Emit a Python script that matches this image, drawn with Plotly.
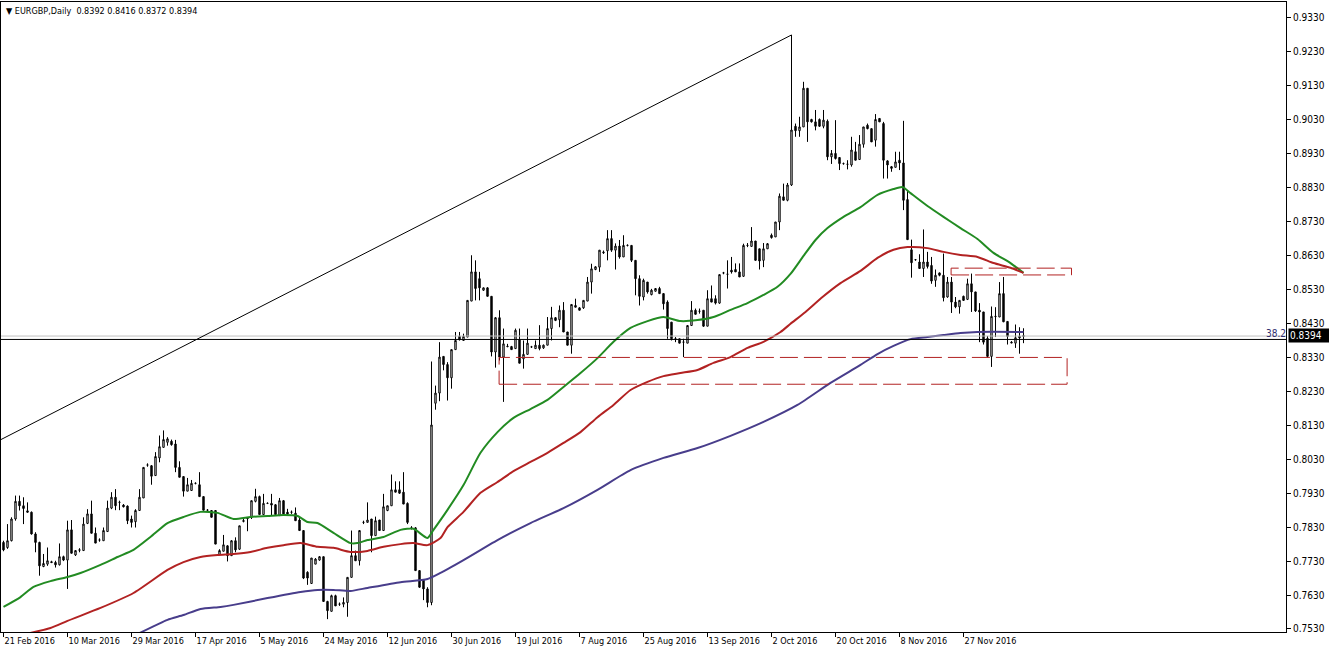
import plotly.graph_objects as go

# ---------------- data ----------------
symbol_title = "\u25BC EURGBP,Daily  0.8392 0.8416 0.8372 0.8394"

date_tick_bars = [0, 16, 32, 48, 64, 80, 96, 112, 128, 144, 160, 176, 192, 208, 224, 240]
date_tick_labels = ["21 Feb 2016", "10 Mar 2016", "29 Mar 2016", "17 Apr 2016", "5 May 2016",
                    "24 May 2016", "12 Jun 2016", "30 Jun 2016", "19 Jul 2016", "7 Aug 2016",
                    "25 Aug 2016", "13 Sep 2016", "2 Oct 2016", "20 Oct 2016", "8 Nov 2016",
                    "27 Nov 2016"]
price_ticks = [0.7530, 0.7630, 0.7730, 0.7830, 0.7930, 0.8030, 0.8130, 0.8230, 0.8330, 0.8430,
               0.8530, 0.8630, 0.8730, 0.8830, 0.8930, 0.9030, 0.9130, 0.9230, 0.9330]

opens = [
    .7785, .7770, .7790, .7854, .7906, .7893, .7878, .7874, .7810, .7785,
    .7714, .7721, .7728, .7726, .7719, .7743, .7733, .7822, .7748, .7762,
    .7761, .7841, .7869, .7812, .7792, .7790, .7817, .7886, .7918, .7903,
    .7895, .7892, .7854, .7846, .7879, .7916, .8013, .8011, .7982, .8034,
    .8065, .8080, .8083, .8075, .8006, .7979, .7936, .7938, .7959, .7955,
    .7920, .7880, .7879, .7879, .7749, .7759, .7775, .7746, .7790, .7765,
    .7847, .7855, .7859, .7906, .7920, .7867, .7900, .7900, .7896, .7864,
    .7908, .7874, .7874, .7871, .7851, .7820, .7697, .7664, .7721, .7733,
    .7743, .7611, .7582, .7628, .7603, .7603, .7608, .7682, .7746, .7731,
    .7844, .7844, .7854, .7805, .7851, .7820, .7879, .7893, .7940, .7940,
    .7933, .7900, .7828, .7828, .7702, .7674, .7648, .7608, .8195, .8225,
    .8333, .8309, .8270, .8353, .8392, .8380, .8390, .8496, .8582, .8562,
    .8528, .8535, .8510, .8346, .8447, .8331, .8363, .8362, .8356, .8382,
    .8326, .8339, .8361, .8356, .8366, .8358, .8366, .8415, .8447, .8441,
    .8469, .8405, .8366, .8483, .8476, .8476, .8496, .8552, .8589, .8596,
    .8638, .8644, .8680, .8646, .8658, .8626, .8660, .8660, .8616, .8562,
    .8508, .8552, .8515, .8525, .8533, .8518, .8493, .8434, .8385, .8385,
    .8375, .8372, .8424, .8469, .8466, .8469, .8422, .8503, .8503, .8490,
    .8579, .8575, .8587, .8589, .8582, .8569, .8660, .8657, .8673, .8650,
    .8616, .8650, .8690, .8685, .8729, .8803, .8793, .8838, .9011, .8998,
    .9009, .9123, .9031, .9024, .9031, .9011, .9026, .8921, .8931, .8919,
    .8901, .8899, .8897, .8936, .8913, .8958, .9014, .9004, .8970, .9034,
    .9019, .8909, .8892, .8890, .8911, .8903, .8795, .8647, .8618, .8611,
    .8592, .8611, .8601, .8557, .8579, .8572, .8508, .8552, .8493, .8479,
    .8510, .8501, .8547, .8523, .8469, .8464, .8386, .8333, .8450, .8449,
    .8518, .8436, .8375, .8372, .8392, .8392,
]
highs = [
    .7790, .7839, .7859, .7923, .7923, .7918, .7903, .7876, .7815, .7787,
    .7751, .7770, .7731, .7731, .7782, .7746, .7849, .7851, .7762, .7768,
    .7859, .7883, .7908, .7829, .7797, .7829, .7908, .7933, .7942, .7908,
    .7898, .7894, .7864, .7883, .7942, .8006, .8018, .8013, .8051, .8100,
    .8115, .8095, .8088, .8087, .8024, .7979, .7975, .7969, .7962, .7992,
    .7920, .7883, .7880, .7879, .7765, .7807, .7777, .7792, .7800, .7834,
    .7857, .7859, .7908, .7943, .7923, .7928, .7903, .7928, .7898, .7916,
    .7910, .7884, .7879, .7888, .7859, .7820, .7700, .7739, .7739, .7745,
    .7743, .7613, .7631, .7631, .7608, .7623, .7682, .7820, .7761, .7820,
    .7849, .7903, .7854, .7861, .7851, .7928, .7893, .7985, .7965, .7965,
    .7992, .7903, .7833, .7830, .7702, .7676, .7653, .8318, .8247, .8375,
    .8333, .8316, .8353, .8405, .8405, .8400, .8498, .8631, .8616, .8582,
    .8536, .8537, .8510, .8449, .8469, .8415, .8370, .8364, .8415, .8415,
    .8380, .8415, .8364, .8380, .8425, .8368, .8449, .8479, .8449, .8483,
    .8493, .8405, .8486, .8503, .8478, .8498, .8567, .8606, .8599, .8646,
    .8645, .8705, .8705, .8666, .8676, .8690, .8663, .8661, .8616, .8572,
    .8562, .8552, .8532, .8534, .8538, .8518, .8498, .8434, .8390, .8385,
    .8385, .8424, .8496, .8474, .8474, .8469, .8528, .8542, .8513, .8574,
    .8582, .8616, .8626, .8607, .8607, .8665, .8667, .8714, .8673, .8650,
    .8667, .8667, .8695, .8729, .8813, .8842, .8844, .9280, .9019, .9039,
    .9142, .9123, .9033, .9059, .9034, .9059, .9031, .8941, .9029, .8919,
    .8904, .8911, .8980, .8965, .8985, .9009, .9019, .9004, .9047, .9034,
    .9024, .8911, .8894, .8936, .8936, .9027, .8823, .8677, .8620, .8634,
    .8707, .8641, .8626, .8589, .8580, .8636, .8567, .8567, .8508, .8498,
    .8512, .8562, .8577, .8523, .8490, .8464, .8393, .8480, .8478, .8552,
    .8567, .8436, .8378, .8427, .8419, .8416,
]
lows = [
    .7759, .7766, .7788, .7849, .7879, .7839, .7873, .7808, .7756, .7687,
    .7712, .7716, .7724, .7711, .7717, .7730, .7648, .7753, .7745, .7756,
    .7761, .7839, .7812, .7783, .7787, .7790, .7817, .7883, .7880, .7880,
    .7888, .7839, .7829, .7829, .7879, .7916, .8008, .7955, .7982, .8021,
    .8065, .8070, .8070, .7992, .7977, .7920, .7936, .7938, .7956, .7920,
    .7879, .7878, .7859, .7780, .7749, .7759, .7729, .7745, .7756, .7763,
    .7844, .7818, .7854, .7903, .7867, .7867, .7898, .7864, .7864, .7864,
    .7867, .7867, .7869, .7849, .7820, .7677, .7660, .7664, .7721, .7731,
    .7611, .7559, .7582, .7598, .7598, .7594, .7566, .7682, .7731, .7717,
    .7839, .7844, .7756, .7805, .7820, .7820, .7877, .7893, .7933, .7928,
    .7898, .7839, .7823, .7702, .7651, .7615, .7594, .7600, .8176, .8201,
    .8292, .8203, .8238, .8353, .8380, .8380, .8390, .8496, .8498, .8498,
    .8526, .8510, .8333, .8300, .8321, .8199, .8360, .8353, .8356, .8313,
    .8297, .8339, .8358, .8356, .8351, .8355, .8366, .8380, .8437, .8419,
    .8405, .8366, .8341, .8478, .8469, .8473, .8496, .8518, .8587, .8582,
    .8635, .8616, .8641, .8589, .8621, .8626, .8657, .8611, .8513, .8483,
    .8498, .8518, .8513, .8524, .8518, .8471, .8385, .8380, .8375, .8372,
    .8331, .8372, .8424, .8457, .8459, .8420, .8422, .8493, .8486, .8488,
    .8575, .8533, .8577, .8582, .8567, .8567, .8655, .8657, .8616, .8589,
    .8596, .8650, .8680, .8685, .8705, .8793, .8790, .8835, .8980, .8980,
    .9009, .8965, .9022, .8999, .9009, .9005, .8911, .8900, .8913, .8882,
    .8898, .8884, .8892, .8911, .8913, .8948, .9002, .8965, .8951, .9024,
    .8857, .8857, .8877, .8890, .8882, .8764, .8677, .8565, .8615, .8592,
    .8567, .8592, .8547, .8538, .8569, .8495, .8506, .8461, .8475, .8459,
    .8497, .8499, .8464, .8464, .8375, .8368, .8329, .8302, .8390, .8449,
    .8434, .8368, .8372, .8358, .8341, .8372,
]
closes = [
    .7763, .7790, .7854, .7906, .7893, .7885, .7874, .7810, .7785, .7716,
    .7723, .7731, .7726, .7719, .7743, .7733, .7822, .7753, .7761, .7763,
    .7839, .7869, .7812, .7783, .7792, .7820, .7886, .7918, .7893, .7903,
    .7890, .7849, .7844, .7879, .7918, .8006, .8013, .7980, .8038, .8067,
    .8088, .8090, .8073, .8006, .7977, .7936, .7955, .7959, .7959, .7920,
    .7880, .7880, .7859, .7780, .7761, .7778, .7746, .7790, .7763, .7834,
    .7849, .7857, .7908, .7920, .7867, .7900, .7900, .7895, .7867, .7908,
    .7869, .7869, .7874, .7849, .7820, .7680, .7680, .7739, .7736, .7743,
    .7611, .7584, .7628, .7598, .7603, .7608, .7682, .7746, .7731, .7820,
    .7844, .7851, .7805, .7849, .7820, .7890, .7893, .7940, .7933, .7930,
    .7898, .7844, .7828, .7702, .7653, .7648, .7608, .8131, .8225, .8331,
    .8309, .8270, .8353, .8380, .8382, .8392, .8498, .8582, .8533, .8535,
    .8535, .8510, .8346, .8447, .8331, .8370, .8362, .8353, .8410, .8313,
    .8339, .8372, .8361, .8366, .8356, .8366, .8415, .8447, .8439, .8469,
    .8405, .8366, .8486, .8478, .8469, .8498, .8552, .8591, .8597, .8646,
    .8640, .8680, .8646, .8658, .8626, .8660, .8660, .8616, .8562, .8510,
    .8557, .8523, .8528, .8533, .8518, .8488, .8415, .8385, .8385, .8372,
    .8375, .8424, .8469, .8457, .8466, .8422, .8503, .8493, .8490, .8574,
    .8579, .8575, .8582, .8582, .8567, .8660, .8660, .8673, .8616, .8614,
    .8650, .8665, .8683, .8729, .8805, .8793, .8838, .9000, .8998, .9009,
    .9123, .9024, .9024, .9011, .9011, .9029, .8921, .8931, .8916, .8901,
    .8901, .8899, .8941, .8911, .8958, .9009, .9004, .8965, .9031, .9024,
    .8911, .8897, .8887, .8906, .8903, .8793, .8677, .8609, .8618, .8592,
    .8611, .8598, .8555, .8572, .8572, .8506, .8552, .8493, .8479, .8498,
    .8498, .8547, .8523, .8467, .8464, .8375, .8333, .8451, .8451, .8518,
    .8435, .8392, .8373, .8388, .8388, .8394,
]

# moving averages, read at points along each line (bar position, price)
ma_fast_bar = [0, 4.25, 7.5, 11.75, 16, 19.25, 24.25, 28.5, 32.5, 36.75,
               41, 45, 49.25, 53.5, 57.5, 61.75, 66, 70, 73.5, 76,
               78.5, 82.5, 86.75, 88.5, 91, 95, 99.25, 102.5, 106, 107.5,
               111, 115, 119.25, 123.5, 127.5, 131.75, 136, 140, 144.25, 148.5,
               152.5, 156.75, 161, 165, 169.25, 173.5, 177.5, 181.75, 186, 190,
               193.5, 196.75, 200, 203, 206, 210, 214.25, 218.5, 222.5, 224.75,
               226.75, 231, 235, 239.25, 243.5, 247.5, 251.75, 255]
ma_fast_val = [0.7595, 0.7624, 0.7654, 0.7671, 0.7683, 0.7695, 0.7719, 0.7742, 0.7763, 0.7801,
               0.7842, 0.7860, 0.7875, 0.7872, 0.7854, 0.7860, 0.7863, 0.7866, 0.7863, 0.7845,
               0.7842, 0.7813, 0.7783, 0.7783, 0.7792, 0.7801, 0.7822, 0.7825, 0.7798, 0.7822,
               0.7881, 0.7954, 0.8049, 0.8110, 0.8152, 0.8178, 0.8205, 0.8243, 0.8284, 0.8328,
               0.8376, 0.8417, 0.8437, 0.8449, 0.8437, 0.8440, 0.8449, 0.8470, 0.8490, 0.8514,
               0.8538, 0.8576, 0.8629, 0.8676, 0.8711, 0.8744, 0.8773, 0.8809, 0.8826, 0.8832,
               0.8814, 0.8776, 0.8744, 0.8711, 0.8679, 0.8638, 0.8608, 0.8579]

ma_mid_bar = [5.5, 11.75, 16, 24.25, 32.5, 41, 45, 49.25, 53.5, 57.5,
              61.75, 66, 70, 74.25, 78.5, 82.5, 86.75, 91, 95, 99.25,
              102.5, 106, 109.25, 111, 115, 119.25, 123.5, 127.5, 131.75, 136,
              140, 144.25, 148.5, 152.5, 156.75, 161, 165, 169.25, 173.5, 177.5,
              181.75, 186, 190, 194.25, 196.75, 200.5, 204.75, 209.25, 214.25, 218.5,
              222.5, 226, 231, 235, 239.25, 243.5, 247.5, 251.75, 255]
ma_mid_val = [0.7515, 0.7533, 0.7554, 0.7592, 0.7636, 0.7704, 0.7727, 0.7742, 0.7748, 0.7751,
              0.7757, 0.7769, 0.7777, 0.7783, 0.7772, 0.7769, 0.7757, 0.7760, 0.7772, 0.7780,
              0.7783, 0.7777, 0.7798, 0.7830, 0.7875, 0.7931, 0.7963, 0.7995, 0.8022, 0.8049,
              0.8078, 0.8110, 0.8154, 0.8190, 0.8234, 0.8258, 0.8275, 0.8284, 0.8293, 0.8314,
              0.8331, 0.8358, 0.8376, 0.8405, 0.8429, 0.8464, 0.8508, 0.8549, 0.8585, 0.8623,
              0.8647, 0.8655, 0.8652, 0.8641, 0.8632, 0.8626, 0.8608, 0.8594, 0.8579]

ma_slow_bar = [33.5, 41, 45, 49.25, 54.25, 57.5, 66, 74.25, 78.5, 82.5,
               86.75, 91, 99.25, 106, 109.25, 115, 123.5, 131.75, 140, 148.5,
               156.75, 165, 173.5, 181.75, 190, 198.5, 206.75, 214.25, 218.5, 222.5,
               226.75, 231, 235, 239.25, 243.5, 255]
ma_slow_val = [0.7515, 0.7557, 0.7571, 0.7589, 0.7595, 0.7601, 0.7621, 0.7639, 0.7645, 0.7645,
               0.7642, 0.7651, 0.7668, 0.7677, 0.7695, 0.7733, 0.7792, 0.7842, 0.7886, 0.7940,
               0.7998, 0.8034, 0.8063, 0.8099, 0.8140, 0.8190, 0.8255, 0.8308, 0.8340, 0.8364,
               0.8384, 0.8390, 0.8396, 0.8402, 0.8405, 0.8405]

# drawing objects
fibo_bars = [-188, 197]          # anchor bars (low, high)
fibo_prices = [0.6958, 0.9280]   # anchor prices (low, high)
fibo_level = 38.2
fibo_level_price = 0.8393
hline_price = 0.8383
last_price = 0.8394
zone_x0 = [123.9, 236.9]
zone_x1 = [265.9, 267.0]
zone_low = [0.8251, 0.8573]
zone_high = [0.8330, 0.8593]

# ---------------- figure ----------------
bars = list(range(len(closes)))
FONT = "Tahoma, 'DejaVu Sans Condensed', 'Liberation Sans', Arial, sans-serif"

fig = go.Figure()
fig.add_trace(go.Candlestick(
    x=bars, open=opens, high=highs, low=lows, close=closes,
    increasing=dict(line=dict(color="black", width=1), fillcolor="white"),
    decreasing=dict(line=dict(color="black", width=1), fillcolor="black"),
    whiskerwidth=0, showlegend=False, hoverinfo="skip"))

for bx, vy, col in [(ma_fast_bar, ma_fast_val, "#228B22"),
                    (ma_mid_bar, ma_mid_val, "#B22222"),
                    (ma_slow_bar, ma_slow_val, "#483D8B")]:
    fig.add_trace(go.Scatter(x=bx, y=vy, mode="lines", showlegend=False, hoverinfo="skip",
                             line=dict(color=col, width=2, shape="spline", smoothing=0.6)))

shapes = []
shapes.append(dict(type="line", xref="paper", x0=0, x1=1, yref="y",
                   y0=fibo_level_price, y1=fibo_level_price, line=dict(color="#C0C0C0", width=1)))
shapes.append(dict(type="line", xref="paper", x0=0, x1=1, yref="y",
                   y0=hline_price, y1=hline_price, line=dict(color="black", width=1)))
shapes.append(dict(type="line", xref="x", yref="y", x0=fibo_bars[0], y0=fibo_prices[0],
                   x1=fibo_bars[1], y1=fibo_prices[1], line=dict(color="black", width=1)))
for i in range(len(zone_x0)):
    shapes.append(dict(type="rect", xref="x", yref="y", x0=zone_x0[i], x1=zone_x1[i],
                       y0=zone_low[i], y1=zone_high[i], fillcolor="rgba(0,0,0,0)",
                       line=dict(color="#B22222", width=1, dash="18px,6px")))

annotations = [
    dict(text=symbol_title, xref="paper", yref="paper", x=0, y=1, xanchor="left", yanchor="top",
         xshift=3, yshift=-2, showarrow=False, font=dict(family=FONT, size=9, color="black")),
    dict(text=str(fibo_level), xref="paper", yref="y", x=1, y=fibo_level_price,
         xanchor="right", yanchor="middle", yshift=3, xshift=2, showarrow=False,
         font=dict(family=FONT, size=10, color="#2F2F6F")),
    dict(text="%.4f" % last_price, xref="paper", yref="y", x=1, y=last_price,
         xanchor="left", yanchor="middle", xshift=2, showarrow=False, bgcolor="black",
         width=38, align="left", borderpad=1,
         font=dict(family=FONT, size=10, color="white")),
]

fig.update_layout(
    width=1329, height=654,
    margin=dict(l=1, r=43, t=2, b=22, autoexpand=False),
    paper_bgcolor="white", plot_bgcolor="white",
    boxgap=0.5,
    shapes=shapes, annotations=annotations,
    font=dict(family=FONT, size=10, color="black"),
    xaxis=dict(range=[-0.625, 320.625], tickmode="array", tickvals=date_tick_bars,
               ticktext=date_tick_labels, ticks="outside", ticklen=4, tickcolor="black",
               ticklabelposition="outside right", tickangle=0, automargin=False,
               showline=True, linecolor="black", linewidth=1, mirror=True,
               showgrid=False, zeroline=False, rangeslider=dict(visible=False),
               tickfont=dict(family=FONT, size=9, color="black")),
    yaxis=dict(range=[0.75211, 0.93771], side="right", tickmode="array", tickvals=price_ticks,
               tickformat=".4f", ticks="outside", ticklen=4, tickcolor="black", automargin=False,
               showline=True, linecolor="black", linewidth=1, mirror=True,
               showgrid=False, zeroline=False,
               tickfont=dict(family=FONT, size=10, color="black")),
)

fig.write_html("out.html", config={"displayModeBar": False},
               post_script="document.body.style.margin='0';")
